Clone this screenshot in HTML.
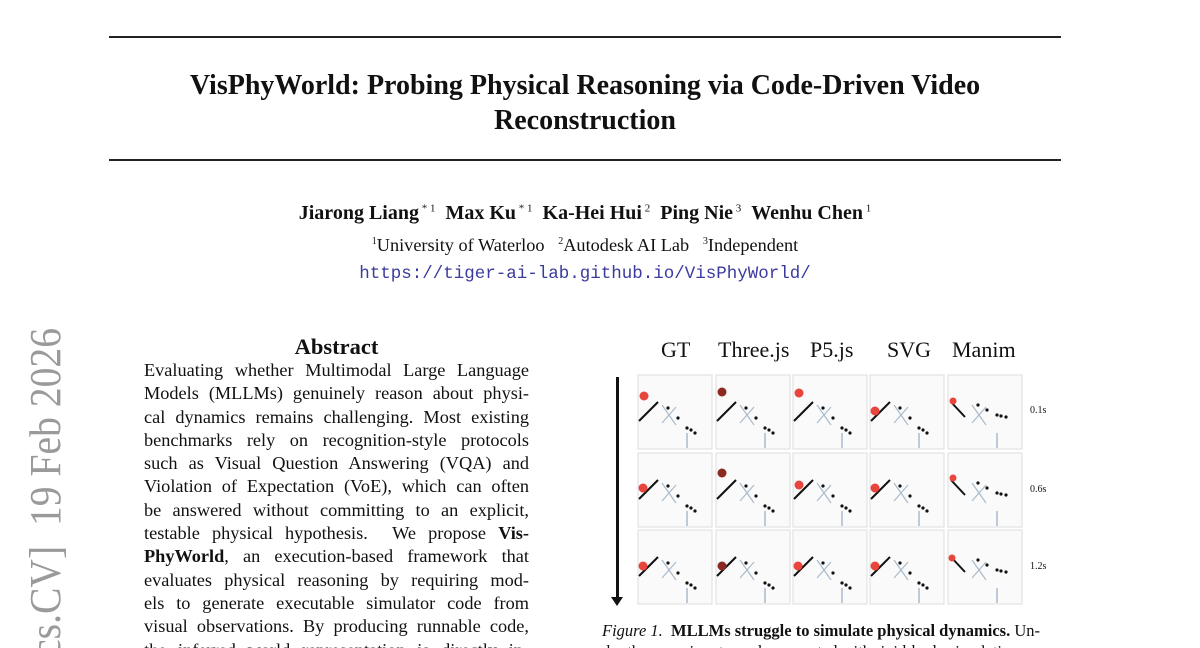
<!DOCTYPE html>
<html><head><meta charset="utf-8"><style>
html,body{margin:0;width:1200px;height:648px;overflow:hidden}
body{background:#fff;position:relative;font-family:"Liberation Serif",serif;color:#111}
.a{position:absolute;white-space:nowrap}
.rule{position:absolute;left:109px;width:952px;height:2px;background:#222}
.ab{position:absolute;left:144px;width:385px;font-size:18.3px;line-height:23.3px;text-align:justify;text-align-last:justify;}
.ab div{height:23.3px;overflow:hidden}
.h{position:absolute;top:337px;font-size:22px}
.t{position:absolute;font-size:10px;left:1030px}
</style></head><body>
<div class="rule" style="top:36px"></div>
<div class="rule" style="top:159px"></div>
<div class="a" style="left:0;width:1170px;text-align:center;top:68px;font-size:28px;font-weight:bold;line-height:35px">VisPhyWorld: Probing Physical Reasoning via Code-Driven Video<br>Reconstruction</div>
<div class="a" style="left:0;width:1170px;text-align:center;top:202px;font-size:20px;font-weight:bold">Jiarong Liang<sup style="font-weight:normal;font-size:11px"> * 1</sup> &nbsp;Max Ku<sup style="font-weight:normal;font-size:11px"> * 1</sup> &nbsp;Ka-Hei Hui<sup style="font-weight:normal;font-size:11px"> 2</sup> &nbsp;Ping Nie<sup style="font-weight:normal;font-size:11px"> 3</sup> &nbsp;Wenhu Chen<sup style="font-weight:normal;font-size:11px"> 1</sup></div>
<div class="a" style="left:0;width:1170px;text-align:center;top:235px;font-size:18.3px"><sup style="font-size:10px">1</sup>University of Waterloo &nbsp;&nbsp;<sup style="font-size:10px">2</sup>Autodesk AI Lab &nbsp;&nbsp;<sup style="font-size:10px">3</sup>Independent</div>
<div class="a" style="left:0;width:1170px;text-align:center;top:264px;font-size:17.5px;font-family:'Liberation Mono',monospace;color:#3b3b9e">https://tiger-ai-lab.github.io/VisPhyWorld/</div>

<div class="a" style="left:-776px;top:328px;width:800px;text-align:right;transform-origin:800px 0;transform:rotate(-90deg) scaleX(0.9);font-size:44px;color:#9a9a9a;line-height:44px">arXiv:2602.00000v1 &nbsp;[cs.CV] &nbsp;19 Feb 2026</div>

<div class="a" style="left:144px;width:385px;text-align:center;top:334px;font-size:22.5px;font-weight:bold">Abstract</div>
<div class="ab" style="top:359px">
<div>Evaluating whether Multimodal Large Language</div>
<div>Models (MLLMs) genuinely reason about physi-</div>
<div>cal dynamics remains challenging. Most existing</div>
<div>benchmarks rely on recognition-style protocols</div>
<div>such as Visual Question Answering (VQA) and</div>
<div>Violation of Expectation (VoE), which can often</div>
<div>be answered without committing to an explicit,</div>
<div>testable physical hypothesis. &nbsp;We propose <b>Vis-</b></div>
<div><b>PhyWorld</b>, an execution-based framework that</div>
<div>evaluates physical reasoning by requiring mod-</div>
<div>els to generate executable simulator code from</div>
<div>visual observations. By producing runnable code,</div>
<div>the inferred world representation is directly in-</div>
</div>

<div class="h" style="left:661px">GT</div>
<div class="h" style="left:718px">Three.js</div>
<div class="h" style="left:810px">P5.js</div>
<div class="h" style="left:887px">SVG</div>
<div class="h" style="left:952px">Manim</div>
<div style="position:absolute;left:616px;top:377px;width:3px;height:222px;background:#111"></div>
<div style="position:absolute;left:611px;top:597px;width:0;height:0;border-left:6px solid transparent;border-right:6px solid transparent;border-top:9px solid #111"></div>

<svg width="1200" height="648" style="position:absolute;left:0;top:0" xmlns="http://www.w3.org/2000/svg">
<g id="cells"></g>
</svg>
<script>
var xs=[638,716,793,870,948], ys=[375,453,530];
var s='';
var ball=[[[6,21],[6,17],[6,18],[5,36],[5,26]],[[5,35],[6,20],[6,32],[5,35],[5,25]],[[5,36],[6,36],[5,36],[5,36],[4,28]]];
for(var r=0;r<3;r++)for(var c=0;c<5;c++){
 var x=xs[c],y=ys[r];
 s+='<rect x="'+x+'" y="'+y+'" width="74" height="74" fill="#fafafa" stroke="#ddd"/>';
 if(c<4){s+='<line x1="'+(x+1)+'" y1="'+(y+46)+'" x2="'+(x+20)+'" y2="'+(y+27)+'" stroke="#111" stroke-width="2"/>';}
 else{s+='<line x1="'+(x+3)+'" y1="'+(y+27)+'" x2="'+(x+17)+'" y2="'+(y+42)+'" stroke="#111" stroke-width="2"/>';}
 var d=c<4?[[30,33],[40,43],[49,53],[53,55],[57,58]]:[[30,30],[39,35],[49,40],[53,41],[58,42]];
 d.forEach(function(p){s+='<circle cx="'+(x+p[0])+'" cy="'+(y+p[1])+'" r="1.6" fill="#111"/>';});
 s+='<line x1="'+(x+24)+'" y1="'+(y+30)+'" x2="'+(x+38)+'" y2="'+(y+50)+'" stroke="#abc" stroke-width="1.2"/>';
 s+='<line x1="'+(x+24)+'" y1="'+(y+48)+'" x2="'+(x+38)+'" y2="'+(y+32)+'" stroke="#abc" stroke-width="1.2"/>';
 s+='<line x1="'+(x+49)+'" y1="'+(y+58)+'" x2="'+(x+49)+'" y2="'+(y+73)+'" stroke="#abc" stroke-width="1.5"/>';
 var b=ball[r][c];
 s+='<circle cx="'+(x+b[0])+'" cy="'+(y+b[1])+'" r="'+(c==4?3.5:4.5)+'" fill="'+(c==1?'#8b2a22':'#e8453c')+'"/>';
}
document.querySelector('#cells').innerHTML=s;
</script>
<div class="t" style="top:405px">0.1s</div>
<div class="t" style="top:484px">0.6s</div>
<div class="t" style="top:561px">1.2s</div>
<div class="a" style="left:602px;top:621px;font-size:16.5px"><i>Figure 1.</i> &nbsp;<b>MLLMs struggle to simulate physical dynamics.</b> Un-</div>
<div class="a" style="left:602px;top:642px;font-size:16.5px">der the same inputs, code generated with rigid-body simulation</div>
</body></html>
